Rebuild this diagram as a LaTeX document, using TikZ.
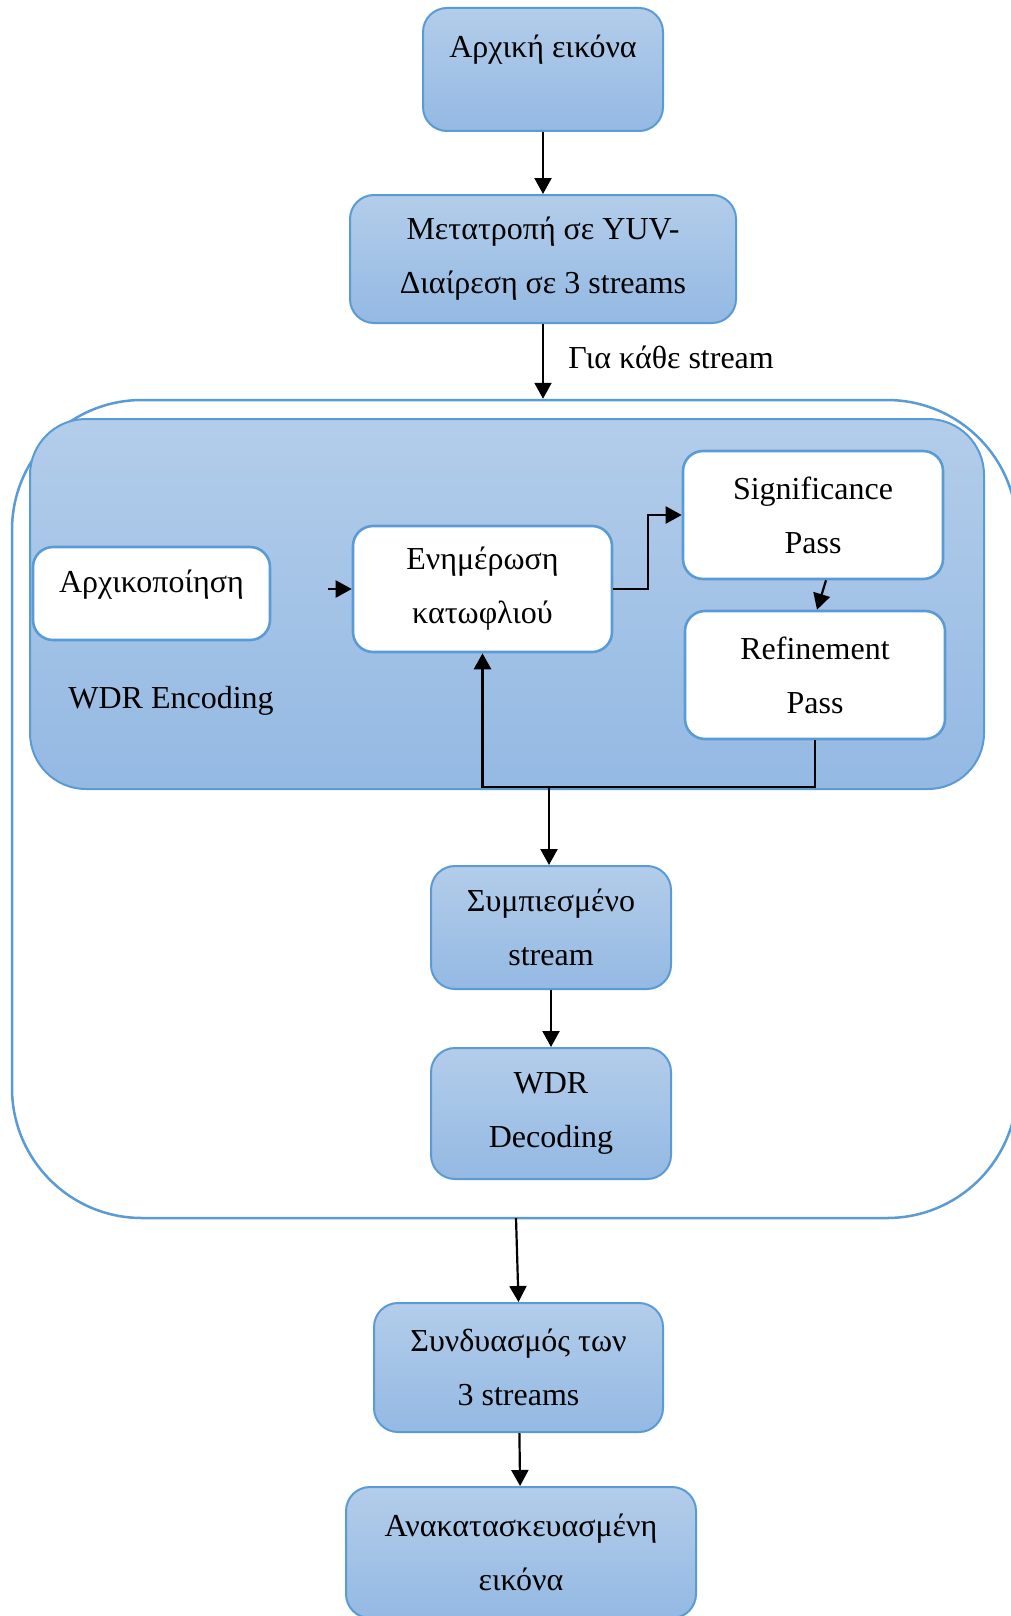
\documentclass[tikz,border=0pt]{standalone}
\usepackage{fontspec}
\setmainfont{Liberation Serif}
\usetikzlibrary{arrows.meta,shadings}
\definecolor{bord}{RGB}{91,155,213}
\definecolor{ftop}{RGB}{179,205,234}
\definecolor{fbot}{RGB}{148,185,227}
\begin{document}
\begin{tikzpicture}[x=0.5pt,y=-0.5pt,
  txt/.style={font=\fontsize{16}{27}\selectfont},
  bluebox/.style={draw=bord, line width=1pt, rounded corners=12pt, top color=ftop, bottom color=fbot, align=center, txt, inner sep=0pt},
  whitebox/.style={draw=bord, line width=1.3pt, rounded corners=10pt, fill=white, align=center, txt, inner sep=0pt},
  arr/.style={draw=black, line width=1.1pt, -{Triangle[length=8pt,width=8.5pt]}},
]
\useasboundingbox (0,0) rectangle (1011,1616);
\clip (0,0) rectangle (1011,1616);
\fill[white] (0,0) rectangle (1011,1616);

% containers
\node[draw=bord, line width=1.25pt, fill=white, rounded corners=65pt, minimum width=502.5pt, minimum height=409pt, inner sep=0pt] (outer) at (514.5,809) {};
\node[draw=bord, line width=1pt, top color=ftop, bottom color=fbot, rounded corners=28pt, minimum width=477pt, minimum height=185pt, inner sep=0pt] (enc) at (507,604) {};

% boxes
\node[bluebox, minimum width=120pt, minimum height=61.5pt, text height=10.5pt, text depth=22pt] (init) at (543,69.5) {Αρχική εικόνα};
\node[bluebox, minimum width=193pt, minimum height=64pt] (yuv) at (543,259) {Μετατροπή σε YUV-\\Διαίρεση σε 3 streams};
\node[whitebox, minimum width=118.5pt, minimum height=46.5pt, text height=10.5pt, text depth=12pt] (arx) at (151.5,593.5) {Αρχικοποίηση};
\node[whitebox, minimum width=129.5pt, minimum height=63pt] (upd) at (482.5,589) {Ενημέρωση\\κατωφλιού};
\node[whitebox, minimum width=130pt, minimum height=64pt] (sig) at (813,515) {Significance\\Pass};
\node[whitebox, minimum width=130pt, minimum height=64pt] (ref) at (815,675) {Refinement\\Pass};
\node[bluebox, minimum width=120pt, minimum height=61.5pt] (comp) at (551,927.5) {Συμπιεσμένο\\stream};
\node[bluebox, minimum width=120pt, minimum height=65.5pt] (dec) at (551,1113.5) {WDR\\Decoding};
\node[bluebox, minimum width=144.5pt, minimum height=64.5pt] (comb) at (518.5,1367.5) {Συνδυασμός των\\3 streams};
\node[bluebox, minimum width=175pt, minimum height=65.5pt] (rec) at (521,1552.5) {Ανακατασκευασμένη\\εικόνα};

% labels
\node[txt, anchor=base west, inner sep=0pt] (enclbl) at (68,708) {WDR Encoding};
\node[txt, anchor=base west, inner sep=0pt] (strlbl) at (568,368) {Για κάθε stream};

% coordinates
\coordinate (a0) at (328,589);
\coordinate (fb) at (815,787);
\coordinate (fbm) at (549,787);
\coordinate (ob) at (516,1218);

% connectors
\draw[arr] (init) -- (yuv);
\draw[arr] (yuv.south) -- (yuv.south |- outer.north);
\draw[arr] (a0) -- (a0 -| upd.west);
\draw[arr] (upd.east) -- ++(35,0) |- (sig.west);
\draw[arr] ([xshift=6.5pt]sig.south) -- ([xshift=1pt]ref.north);
\draw[arr, line width=1.4pt] (ref.south) -- (fb) -| (upd.south);
\draw[arr] (fbm) -- (fbm |- comp.north);
\draw[arr] (comp) -- (dec);
\draw[arr] (ob) -- (comb.north);
\draw[arr] (comb) -- (rec);
\end{tikzpicture}
\end{document}
